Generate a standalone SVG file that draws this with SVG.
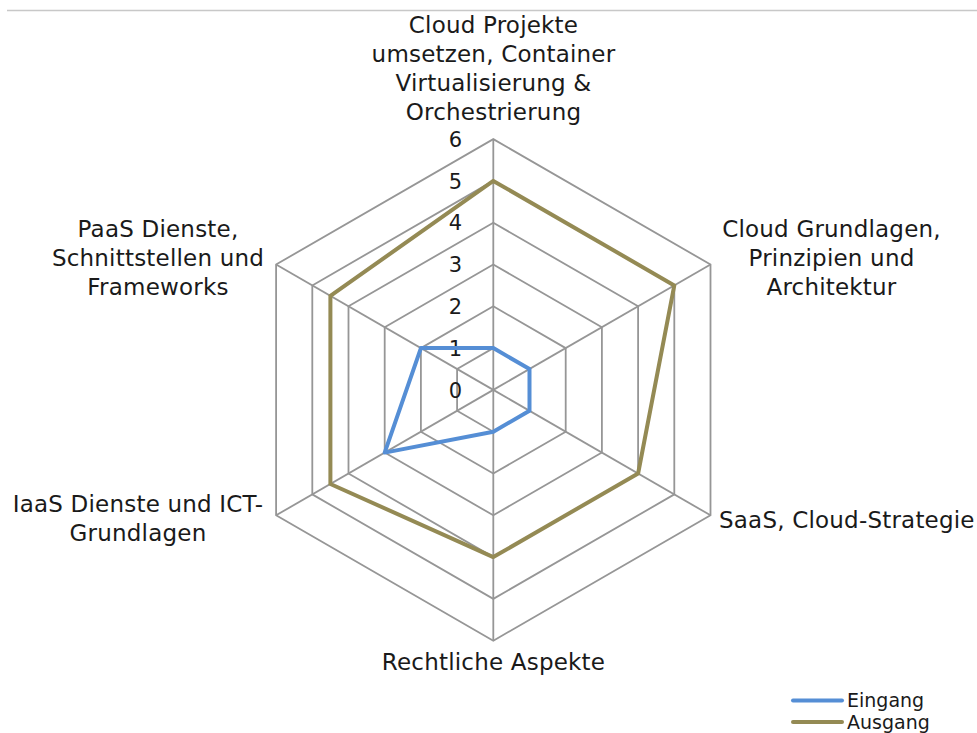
<svg xmlns="http://www.w3.org/2000/svg" width="977" height="733" viewBox="0 0 977 733">
  <style>
    .grid { fill: none; stroke: #969696; stroke-width: 1.8; }
    .spoke { stroke: #969696; stroke-width: 1.8; }
    .lbl { font-family: "DejaVu Sans", "Liberation Sans", sans-serif; font-size: 23px; fill: #1a1a1a; letter-spacing: 0.2px; }
    .tick { font-family: "DejaVu Sans", "Liberation Sans", sans-serif; font-size: 21px; fill: #1a1a1a; text-anchor: end; }
    .leg { font-family: "DejaVu Sans", "Liberation Sans", sans-serif; font-size: 19px; fill: #1a1a1a; }
    .series { fill: none; stroke-width: 4; stroke-linejoin: round; stroke-linecap: round; }
    .eingang { stroke: #558ED5; }
    .ausgang { stroke: #948A54; }
  </style>

  <rect width="977" height="733" fill="#ffffff"/>
  <line x1="7" y1="10.5" x2="977" y2="10.5" stroke="#c8c8c8" stroke-width="1.5"/>

  <!-- radar grid: concentric hexagons, one per scale step -->
  <g id="grid" transform="translate(493.3,389.9)">
    <polygon class="grid" points="0,-41.8 36.2,-20.9 36.2,20.9 0,41.8 -36.2,20.9 -36.2,-20.9"/>
    <polygon class="grid" points="0,-83.6 72.4,-41.8 72.4,41.8 0,83.6 -72.4,41.8 -72.4,-41.8"/>
    <polygon class="grid" points="0,-125.4 108.6,-62.7 108.6,62.7 0,125.4 -108.6,62.7 -108.6,-62.7"/>
    <polygon class="grid" points="0,-167.2 144.8,-83.6 144.8,83.6 0,167.2 -144.8,83.6 -144.8,-83.6"/>
    <polygon class="grid" points="0,-209 181,-104.5 181,104.5 0,209 -181,104.5 -181,-104.5"/>
    <polygon class="grid" points="0,-250.8 217.2,-125.4 217.2,125.4 0,250.8 -217.2,125.4 -217.2,-125.4"/>
  </g>

  <!-- axis spokes -->
  <g id="connectors" transform="translate(493.3,389.9)">
    <line class="spoke" x1="0" y1="0" x2="0" y2="-250.8"/>
    <line class="spoke" x1="0" y1="0" x2="217.2" y2="-125.4"/>
    <line class="spoke" x1="0" y1="0" x2="217.2" y2="125.4"/>
    <line class="spoke" x1="0" y1="0" x2="0" y2="250.8"/>
    <line class="spoke" x1="0" y1="0" x2="-217.2" y2="125.4"/>
    <line class="spoke" x1="0" y1="0" x2="-217.2" y2="-125.4"/>
  </g>

  <!-- scale values -->
  <g id="scale">
    <text class="tick" x="462" y="397.5">0</text>
    <text class="tick" x="462" y="355.7">1</text>
    <text class="tick" x="462" y="313.9">2</text>
    <text class="tick" x="462" y="272.1">3</text>
    <text class="tick" x="462" y="230.3">4</text>
    <text class="tick" x="462" y="188.5">5</text>
    <text class="tick" x="462" y="146.7">6</text>
  </g>

  <!-- data series -->
  <g id="series-eingang" transform="translate(493.3,389.9)">
    <polygon class="series eingang" points="0,-41.8 36.2,-20.9 36.2,20.9 0,41.8 -108.6,62.7 -72.4,-41.8"/>
  </g>
  <g id="series-ausgang" transform="translate(493.3,389.9)">
    <polygon class="series ausgang" points="0,-209 181,-104.5 144.8,83.6 0,167.2 -162.9,94.05 -162.9,-94.05"/>
  </g>

  <!-- axis labels -->
  <g id="axis-top">
    <text class="lbl" text-anchor="middle" x="493.5" y="33">Cloud Projekte</text>
    <text class="lbl" text-anchor="middle" x="493.5" y="62">umsetzen, Container</text>
    <text class="lbl" text-anchor="middle" x="493.5" y="91">Virtualisierung &amp;</text>
    <text class="lbl" text-anchor="middle" x="493.5" y="120">Orchestrierung</text>
  </g>
  <g id="axis-upper-right">
    <text class="lbl" text-anchor="middle" x="831.5" y="237">Cloud Grundlagen,</text>
    <text class="lbl" text-anchor="middle" x="831.5" y="266">Prinzipien und</text>
    <text class="lbl" text-anchor="middle" x="831.5" y="295">Architektur</text>
  </g>
  <g id="axis-lower-right">
    <text class="lbl" x="719" y="528">SaaS, Cloud-Strategie</text>
  </g>
  <g id="axis-bottom">
    <text class="lbl" text-anchor="middle" x="493.5" y="670">Rechtliche Aspekte</text>
  </g>
  <g id="axis-lower-left">
    <text class="lbl" text-anchor="middle" x="138" y="512">IaaS Dienste und ICT-</text>
    <text class="lbl" text-anchor="middle" x="138" y="541">Grundlagen</text>
  </g>
  <g id="axis-upper-left">
    <text class="lbl" text-anchor="middle" x="158" y="237">PaaS Dienste,</text>
    <text class="lbl" text-anchor="middle" x="158" y="266">Schnittstellen und</text>
    <text class="lbl" text-anchor="middle" x="158" y="295">Frameworks</text>
  </g>

  <!-- legend -->
  <g id="legend">
    <line class="series eingang" x1="793" y1="700.5" x2="842" y2="700.5"/>
    <text class="leg" x="847" y="707">Eingang</text>
    <line class="series ausgang" x1="793" y1="722" x2="842" y2="722"/>
    <text class="leg" x="847" y="729">Ausgang</text>
  </g>
</svg>
